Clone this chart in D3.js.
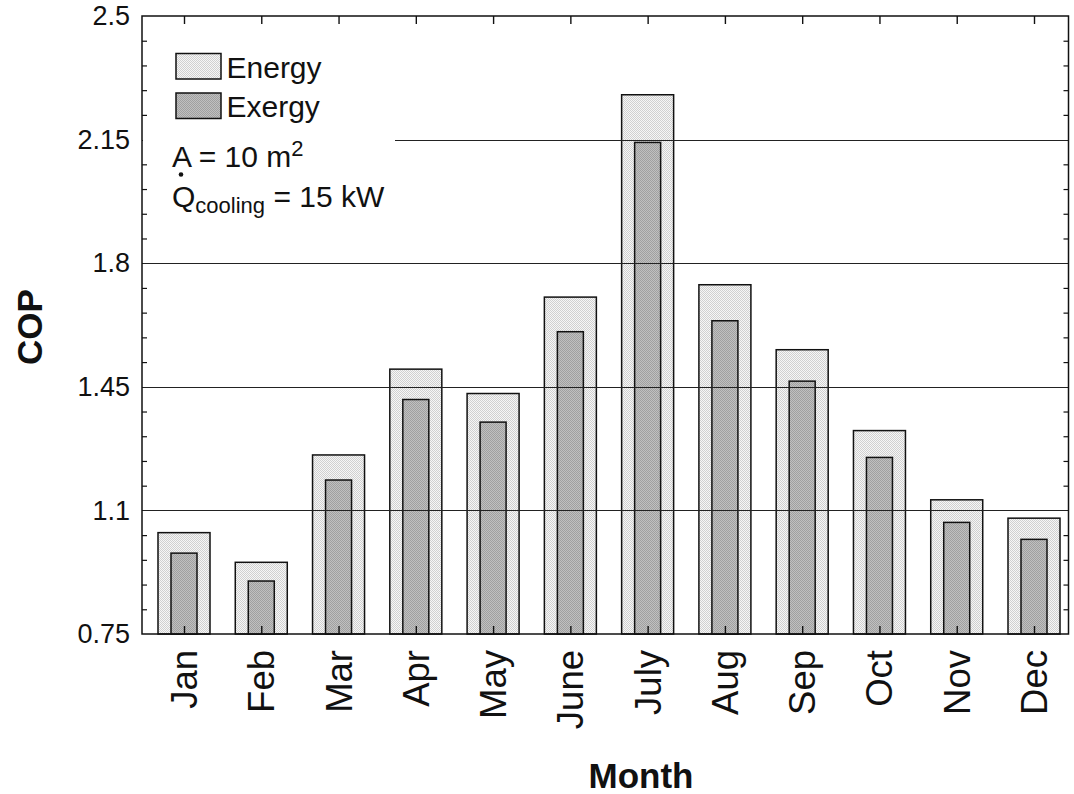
<!DOCTYPE html>
<html><head><meta charset="utf-8">
<script src="https://cdn.jsdelivr.net/npm/d3@7/dist/d3.min.js"></script>
<style>body{margin:0;background:#fff}svg{display:block}text{font-family:"Liberation Sans",Arial,sans-serif}</style>
</head><body>
<svg id="c" width="1074" height="794"></svg>
<script>
const months = ["Jan","Feb","Mar","Apr","May","June","July","Aug","Sep","Oct","Nov","Dec"];
const energy = [1.037, 0.953, 1.257, 1.500, 1.431, 1.704, 2.277, 1.739, 1.555, 1.326, 1.130, 1.078];
const exergy = [0.979, 0.900, 1.186, 1.414, 1.350, 1.606, 2.142, 1.637, 1.466, 1.250, 1.066, 1.018];
const yTicks = [0.75, 1.1, 1.45, 1.8, 2.15, 2.5];
const yTickLabels = ["0.75", "1.1", "1.45", "1.8", "2.15", "2.5"];
const gridValues = [1.1, 1.45, 1.8, 2.15];

const L = 142, R = 1068.5, T = 16, B = 634;
const svg = d3.select("#c");
const defs = svg.append("defs");
function checker(id, a, b) {
  const p = defs.append("pattern").attr("id", id).attr("patternUnits", "userSpaceOnUse")
    .attr("width", 2).attr("height", 2);
  p.append("rect").attr("width", 2).attr("height", 2).attr("fill", a);
  p.append("rect").attr("width", 1).attr("height", 1).attr("fill", b);
  p.append("rect").attr("x", 1).attr("y", 1).attr("width", 1).attr("height", 1).attr("fill", b);
}
checker("pE", "#f6f6f6", "#d0d0d0");
checker("pX", "#c0c0c0", "#a0a0a0");

const x = d3.scalePoint().domain(months).range([184, 1034]);
const y = d3.scaleLinear().domain([0.75, 2.5]).range([B, T]);
const minor = d3.range(0, 26).map(i => 0.75 + i * 0.07).filter(v => !yTicks.some(t => Math.abs(t - v) < 1e-6));

// bars
const g = svg.append("g");
g.selectAll("rect.e").data(months).join("rect").attr("class", "e")
  .attr("x", d => x(d) - 26).attr("width", 52)
  .attr("y", (d, i) => y(energy[i])).attr("height", (d, i) => B - y(energy[i]))
  .attr("fill", "url(#pE)").attr("stroke", "#111").attr("stroke-width", 1.5);
g.selectAll("rect.x").data(months).join("rect").attr("class", "x")
  .attr("x", d => x(d) - 13).attr("width", 26)
  .attr("y", (d, i) => y(exergy[i])).attr("height", (d, i) => B - y(exergy[i]))
  .attr("fill", "url(#pX)").attr("stroke", "#111").attr("stroke-width", 1.5);

// gridlines
svg.append("g").selectAll("line").data(gridValues).join("line")
  .attr("x1", L).attr("x2", R).attr("y1", d => Math.round(y(d)) + 0.5).attr("y2", d => Math.round(y(d)) + 0.5)
  .attr("stroke", "#222").attr("stroke-width", 1);

// legend background
svg.append("rect").attr("x", L + 1).attr("y", 30).attr("width", 395 - L - 1).attr("height", 200).attr("fill", "#fff");

// axes frame
svg.append("rect").attr("x", L).attr("y", T).attr("width", R - L).attr("height", B - T)
  .attr("fill", "none").attr("stroke", "#111").attr("stroke-width", 1.5);

// left/right minor ticks (inward)
const la = svg.append("g").attr("transform", `translate(${L},0)`)
  .call(d3.axisRight(y).tickValues(minor).tickSize(5).tickFormat(""));
la.select(".domain").remove();
la.selectAll("line").attr("stroke", "#111").attr("stroke-width", 1.2);
const ra = svg.append("g").attr("transform", `translate(${R},0)`)
  .call(d3.axisLeft(y).tickValues(minor).tickSize(5).tickFormat(""));
ra.select(".domain").remove();
ra.selectAll("line").attr("stroke", "#111").attr("stroke-width", 1.2);

// y labels
const yl = svg.append("g").attr("transform", `translate(${L},0)`)
  .call(d3.axisLeft(y).tickValues(yTicks).tickSize(0).tickPadding(12).tickFormat((d, i) => yTickLabels[i]));
yl.select(".domain").remove();
yl.selectAll("text").attr("font-size", 27).attr("fill", "#111").attr("font-family", '"Liberation Sans",Arial,sans-serif');

// bottom & top ticks (inward)
const ba = svg.append("g").attr("transform", `translate(0,${B})`)
  .call(d3.axisTop(x).tickSize(8).tickFormat(""));
ba.select(".domain").remove();
ba.selectAll("line").attr("stroke", "#111").attr("stroke-width", 1.4);
const ta = svg.append("g").attr("transform", `translate(0,${T})`)
  .call(d3.axisBottom(x).tickSize(8).tickFormat(""));
ta.select(".domain").remove();
ta.selectAll("line").attr("stroke", "#111").attr("stroke-width", 1.4);

// month labels
svg.append("g").selectAll("text").data(months).join("text")
  .attr("transform", d => `translate(${x(d) + 13},650) rotate(-90)`)
  .attr("text-anchor", "end").attr("font-size", 36.5).attr("fill", "#111").text(d => d);

// axis titles
svg.append("text").attr("x", 641).attr("y", 788).attr("text-anchor", "middle")
  .attr("font-size", 35).attr("font-weight", "bold").attr("fill", "#111").text("Month");
svg.append("text").attr("transform", "translate(42,327) rotate(-90)").attr("text-anchor", "middle")
  .attr("font-size", 35).attr("font-weight", "bold").attr("fill", "#111").text("COP");

// legend
const lg = svg.append("g");
lg.append("rect").attr("x", 176).attr("y", 53.5).attr("width", 45).attr("height", 25.5)
  .attr("fill", "url(#pE)").attr("stroke", "#111").attr("stroke-width", 1.5);
lg.append("rect").attr("x", 176).attr("y", 93).attr("width", 45).attr("height", 25.5)
  .attr("fill", "url(#pX)").attr("stroke", "#111").attr("stroke-width", 1.5);
lg.append("text").attr("x", 226.5).attr("y", 77.5).attr("font-size", 30).attr("fill", "#111").text("Energy");
lg.append("text").attr("x", 226.5).attr("y", 116.5).attr("font-size", 30).attr("fill", "#111").text("Exergy");
const t1 = lg.append("text").attr("x", 172).attr("y", 166.5).attr("font-size", 30).attr("fill", "#111");
t1.append("tspan").text("A = 10 m");
t1.append("tspan").attr("font-size", 22).attr("dy", -10.5).text("2");
const t2 = lg.append("text").attr("x", 172).attr("y", 206.5).attr("font-size", 30).attr("fill", "#111");
t2.append("tspan").text("Q");
t2.append("tspan").attr("font-size", 22).attr("dy", 6).text("cooling");
t2.append("tspan").attr("dy", -6).text(" = 15 kW");
lg.append("circle").attr("cx", 181).attr("cy", 174.5).attr("r", 2.3).attr("fill", "#111");
</script>
</body></html>
